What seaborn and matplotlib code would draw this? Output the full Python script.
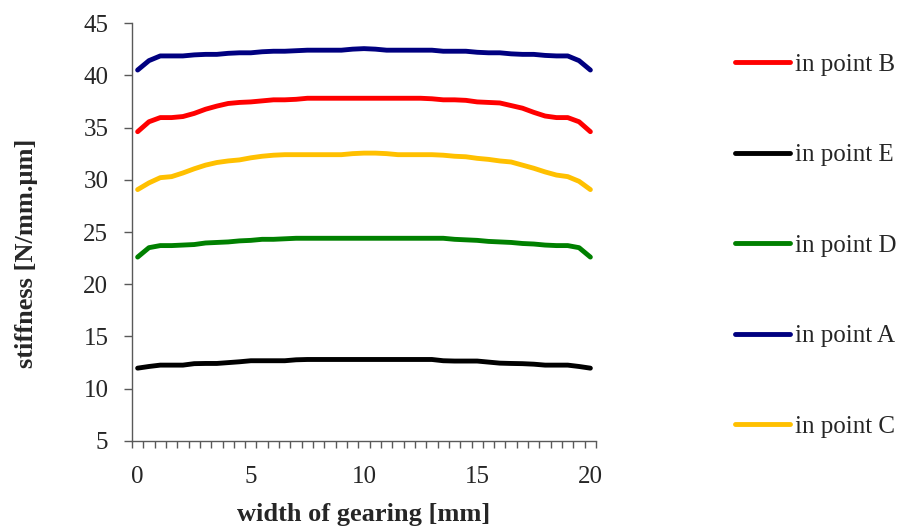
import pandas as pd
import seaborn as sns
import matplotlib.pyplot as plt
from matplotlib.ticker import FixedLocator

# width of gearing [mm], one point every 0.5 mm
width = [0, 0.5, 1, 1.5, 2, 2.5, 3, 3.5, 4, 4.5, 5, 5.5, 6, 6.5, 7, 7.5, 8, 8.5, 9, 9.5, 10,
         10.5, 11, 11.5, 12, 12.5, 13, 13.5, 14, 14.5, 15, 15.5, 16, 16.5, 17, 17.5, 18, 18.5,
         19, 19.5, 20]

point_B = [34.6, 35.55, 35.95, 35.95, 36.05, 36.35, 36.75, 37.05, 37.3, 37.4, 37.45, 37.55,
           37.65, 37.65, 37.7, 37.8, 37.8, 37.8, 37.8, 37.8, 37.8, 37.8, 37.8, 37.8, 37.8,
           37.8, 37.75, 37.65, 37.65, 37.6, 37.45, 37.4, 37.35, 37.1, 36.85, 36.45, 36.1,
           35.95, 35.95, 35.55, 34.6]
point_E = [11.97, 12.13, 12.26, 12.26, 12.26, 12.4, 12.42, 12.42, 12.5, 12.58, 12.68, 12.68,
           12.68, 12.68, 12.77, 12.8, 12.8, 12.8, 12.8, 12.8, 12.8, 12.8, 12.8, 12.8, 12.8,
           12.8, 12.8, 12.68, 12.65, 12.65, 12.65, 12.55, 12.45, 12.42, 12.4, 12.35, 12.26,
           12.26, 12.26, 12.13, 11.97]
point_D = [22.6, 23.5, 23.7, 23.7, 23.75, 23.8, 23.95, 24.0, 24.05, 24.15, 24.2, 24.3, 24.3,
           24.35, 24.4, 24.4, 24.4, 24.4, 24.4, 24.4, 24.4, 24.4, 24.4, 24.4, 24.4, 24.4, 24.4,
           24.4, 24.3, 24.25, 24.2, 24.1, 24.05, 24.0, 23.9, 23.85, 23.75, 23.7, 23.7, 23.5,
           22.6]
point_A = [40.5, 41.4, 41.85, 41.85, 41.85, 41.95, 42.0, 42.0, 42.1, 42.15, 42.15, 42.25,
           42.3, 42.3, 42.35, 42.4, 42.4, 42.4, 42.4, 42.5, 42.55, 42.5, 42.4, 42.4, 42.4,
           42.4, 42.4, 42.3, 42.3, 42.3, 42.2, 42.15, 42.15, 42.05, 42.0, 42.0, 41.9, 41.85,
           41.85, 41.4, 40.5]
point_C = [29.06, 29.7, 30.2, 30.3, 30.65, 31.05, 31.4, 31.65, 31.8, 31.9, 32.1, 32.25,
           32.35, 32.4, 32.4, 32.4, 32.4, 32.4, 32.4, 32.5, 32.55, 32.55, 32.5, 32.4, 32.4,
           32.4, 32.4, 32.35, 32.25, 32.2, 32.05, 31.95, 31.8, 31.7, 31.4, 31.1, 30.75,
           30.45, 30.3, 29.85, 29.06]

series = ['in point B', 'in point E', 'in point D', 'in point A', 'in point C']
colors = ['#FF0000', '#000000', '#008000', '#000080', '#FFC000']

frames = []
for name, vals in zip(series, [point_B, point_E, point_D, point_A, point_C]):
    frames.append(pd.DataFrame({'width': width, 'stiffness': vals, 'series': name}))
df = pd.concat(frames, ignore_index=True)

sns.set_style('white')
plt.rcParams['font.family'] = ['Liberation Serif', 'DejaVu Serif']

fig = plt.figure(figsize=(8.99, 5.28), dpi=100)
ax = fig.add_axes([0.1468, 0.1648, 0.5162, 0.7916])

sns.lineplot(data=df, x='width', y='stiffness', hue='series', hue_order=series,
             palette=dict(zip(series, colors)), linewidth=3.5, ax=ax,
             solid_capstyle='round')

ax.set_xlim(-0.25, 20.25)
ax.set_ylim(5, 45)
ax.set_yticks(range(5, 50, 5))
ax.set_xticks([0, 5, 10, 15, 20])
ax.xaxis.set_minor_locator(FixedLocator([-0.25 + 0.5 * k for k in range(42)]))
ax.tick_params(axis='x', which='major', length=0, pad=18, labelsize=18)
ax.tick_params(axis='x', which='minor', length=5, width=1, color='#595959', direction='out')
ax.tick_params(axis='y', which='major', length=6, width=1, color='#595959', direction='out',
               labelsize=18, pad=11)
ax.xaxis.set_tick_params(bottom=True, which='both')
ax.yaxis.set_tick_params(left=True)

for s in ['top', 'right']:
    ax.spines[s].set_visible(False)
for s in ['left', 'bottom']:
    ax.spines[s].set_color('#595959')
    ax.spines[s].set_linewidth(1)

ax.set_xlabel('width of gearing [mm]', fontsize=19, fontweight='bold')
ax.set_ylabel('stiffness [N/mm.µm]', fontsize=19, fontweight='bold')
ax.xaxis.set_label_coords(0.5, -0.148)
ax.yaxis.set_label_coords(-0.203, 0.45)

ax.legend(loc='upper left', bbox_to_anchor=(0.8176, 0.899), bbox_transform=fig.transFigure,
          frameon=False, fontsize=18, labelspacing=2.72, handlelength=2.2,
          handletextpad=0.2, borderpad=0, borderaxespad=0)

fig.savefig('out.png', dpi=100)
